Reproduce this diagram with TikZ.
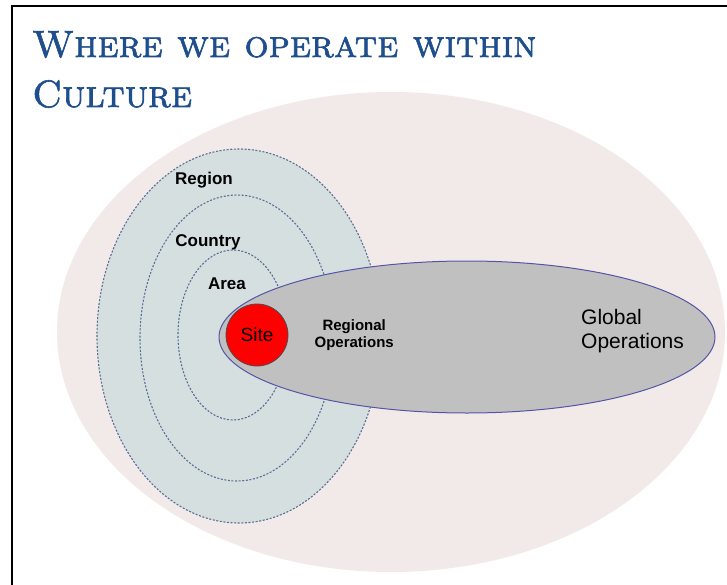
\documentclass[tikz,border=0pt]{standalone}
\usepackage{fontspec}
\setsansfont{Liberation Sans}
\newfontfamily\titlefont{lmromancaps10-regular.otf}[FakeBold=1.6]
\usetikzlibrary{shapes.geometric,positioning}

\definecolor{titleblue}{RGB}{31,78,140}
\definecolor{culturebg}{RGB}{242,234,233}
\definecolor{regionbg}{RGB}{213,223,224}
\definecolor{zoneline}{RGB}{90,110,150}
\definecolor{opsgrey}{RGB}{192,192,192}
\definecolor{opsline}{RGB}{85,85,165}

\begin{document}
\begin{tikzpicture}[x=1pt, y=-1pt,
    zone/.style={ellipse, draw=zoneline, line width=1.1pt, dash pattern=on 2pt off 1.6pt, inner sep=0pt},
    ops/.style={ellipse, fill=opsgrey, draw=opsline, line width=1pt, inner sep=0pt},
    heading/.style={anchor=base west, inner sep=0pt, text=titleblue, font=\titlefont\fontsize{38}{38}\selectfont},
    lbl/.style={font=\sffamily\bfseries\fontsize{17}{17}\selectfont, inner sep=0pt}]
    \useasboundingbox (0,0) rectangle (727,585);

    % Frame and title
    \draw [line width=2pt] (12,585) -- (12,6) -- (727,6);
    \node [heading] (title)   at (32,57)  {Where we operate within};
    \node [heading] (culture) at (32,107) {Culture};

    % Background {culture, region, country, area}
    \node [ellipse, fill=culturebg, inner sep=0pt, minimum width=668pt, minimum height=480pt]
        (cultureback) at (391,332) {};
    \node [zone, fill=regionbg, minimum width=284pt, minimum height=374pt] (region)  at (239,336) {};
    \node [zone, minimum width=194pt, minimum height=286pt]                (country) at (237,338) {};
    \node [zone, minimum width=110pt, minimum height=170pt]                (area)    at (233,335) {};

    % Operations {global, site}
    \node [ops, minimum width=496pt, minimum height=152pt] (global) at (467,337) {};
    \node [circle, fill=red, draw=black!70, line width=0.8pt, inner sep=0pt, minimum size=62pt,
           font=\sffamily\fontsize{19}{19}\selectfont] (site) at (257,335) {Site};

    % Labels
    \node [lbl] (regionlbl)  at (204,180) {Region};
    \node [lbl] (countrylbl) at (208,242) {Country};
    \node [lbl] (arealbl)    at (227,284) {Area};
    \node [inner sep=0pt, align=center, font=\sffamily\bfseries\fontsize{15}{17}\selectfont]
        (regionalops) [right=26pt of site] {Regional\\Operations};
    \node [inner sep=0pt, align=left, anchor=west, font=\sffamily\fontsize{21}{24}\selectfont]
        (globalops) at (581,331) {Global\\Operations};
\end{tikzpicture}
\end{document}
